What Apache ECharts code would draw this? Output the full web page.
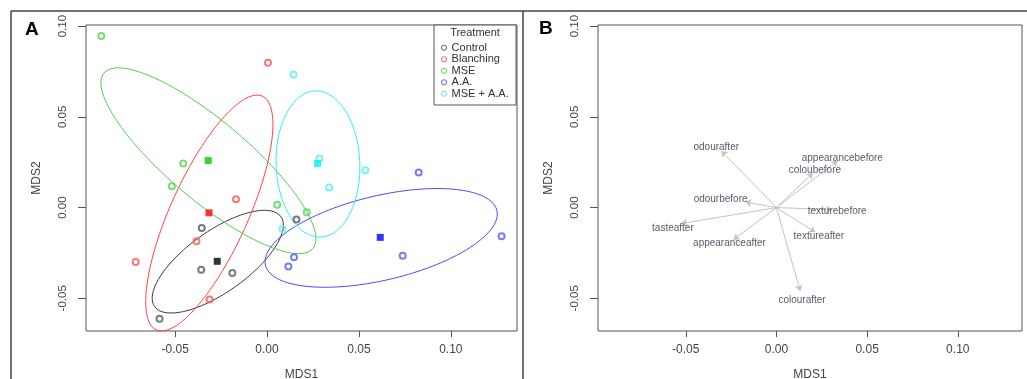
<!DOCTYPE html>
<html>
<head>
<meta charset="utf-8">
<script src="https://cdn.jsdelivr.net/npm/echarts@6/dist/echarts.min.js"></script>
<style>
  html, body { margin: 0; padding: 0; background: #fff; }
  #chart { width: 1027px; height: 379px; }
</style>
</head>
<body>
<div id="chart"></div>
<script>
// ---------- DATA ----------
const groups = ['Control', 'Blanching', 'MSE', 'A.A.', 'MSE + A.A.'];

const controlPts   = [[-0.0585, -0.0612], [-0.0358, -0.0342], [-0.0355, -0.0112], [-0.0189, -0.0360], [0.0160, -0.0066]];
const blanchingPts = [[0.0005, 0.0798], [-0.0169, 0.0046], [-0.0384, -0.0186], [-0.0715, -0.0300], [-0.0313, -0.0507]];
const msePts       = [[-0.0902, 0.0945], [-0.0456, 0.0243], [-0.0518, 0.0118], [0.0055, 0.0015], [0.0216, -0.0026]];
const aaPts        = [[0.0825, 0.0193], [0.1276, -0.0158], [0.0738, -0.0265], [0.0147, -0.0274], [0.0116, -0.0325]];
const mseAaPts     = [[0.0144, 0.0733], [0.0285, 0.0270], [0.0535, 0.0206], [0.0338, 0.0110], [0.0084, -0.0118]];

const centroidX = [-0.0271, -0.0316, -0.0320, 0.0616, 0.0275];
const centroidY = [-0.0296, -0.0029, 0.0259, -0.0164, 0.0243];

// ellipse: centre, half-width, half-height, x-offset of topmost point (data units)
const ellCX    = [-0.0268, -0.0314, -0.0319, 0.0621, 0.0277];
const ellCY    = [-0.0298, -0.0030, 0.0258, -0.0167, 0.0240];
const ellW     = [0.0357, 0.0346, 0.0585, 0.0632, 0.0228];
const ellH     = [0.0283, 0.0650, 0.0512, 0.0272, 0.0403];
const ellDxTop = [0.0254, 0.0260, -0.0491, 0.0305, -0.0010];

// panel B vectors
const vecNames = ['odourafter', 'appearancebefore', 'coloubefore', 'odourbefore', 'texturebefore', 'tasteafter', 'appearanceafter', 'textureafter', 'colourafter'];
const vecX   = [-0.0304, 0.0337, 0.0201, -0.0172, 0.0306, -0.0525, -0.0237, 0.0214, 0.0131];
const vecY   = [0.0312, 0.0257, 0.0191, 0.0031, -0.0011, -0.0088, -0.0177, -0.0135, -0.0460];
const labelX = [-0.0332, 0.0363, 0.0212, -0.0308, 0.0335, -0.0571, -0.0259, 0.0234, 0.0141];
const labelY = [0.0331, 0.0272, 0.0204, 0.0044, -0.0019, -0.0113, -0.0195, -0.0157, -0.0508];

const tickValues = [-0.05, 0.00, 0.05, 0.10];
const xRangeA = [-0.0985, 0.1360];
const xRangeB = [-0.0984, 0.1354];
const yRange  = [-0.0680, 0.1006];

// ---------- STYLE ----------
const pointColors    = ['#5a5a5a', '#f25a5a', '#58d258', '#5a5af5', '#5aeef2'];
const centroidColors = ['#000000', '#ff0000', '#00cc00', '#0000ff', '#00f0f0'];
const ellipseColors  = ['#3a3a3a', '#ff4040', '#50cc50', '#4a4aff', '#30eef2'];
const FONT = 'Liberation Sans, Arial, sans-serif';
const groupPts = [controlPts, blanchingPts, msePts, aaPts, mseAaPts];

function ellipsePoints(i) {
  const W = ellW[i], H = ellH[i];
  const k = ellDxTop[i] * H / W;
  const m = Math.sqrt(Math.max(H * H - k * k, 0));
  const pts = [];
  const n = 160;
  for (let j = 0; j <= n; j++) {
    const t = 2 * Math.PI * j / n;
    pts.push([ellCX[i] + W * Math.cos(t), ellCY[i] + k * Math.cos(t) + m * Math.sin(t)]);
  }
  return pts;
}

function xAxisCfg(idx, range) {
  return {
    type: 'value', gridIndex: idx, min: range[0], max: range[1], position: 'bottom',
    name: 'MDS1', nameLocation: 'middle', nameGap: 38,
    nameTextStyle: { fontFamily: FONT, fontSize: 12, color: '#444' },
    axisLine: { show: false, onZero: false },
    axisTick: { show: true, customValues: tickValues, length: 6, inside: false, lineStyle: { color: '#555', width: 1 } },
    axisLabel: { show: true, customValues: tickValues, margin: 13, fontFamily: FONT, fontSize: 12, color: '#444',
      formatter: v => v.toFixed(2) },
    splitLine: { show: false }
  };
}
function yAxisCfg(idx) {
  return {
    type: 'value', gridIndex: idx, min: yRange[0], max: yRange[1], position: 'left',
    name: 'MDS2', nameLocation: 'middle', nameGap: 43, nameRotate: 90,
    nameTextStyle: { fontFamily: FONT, fontSize: 12, color: '#444' },
    axisLine: { show: false, onZero: false },
    axisTick: { show: true, customValues: tickValues, length: 8, inside: false, lineStyle: { color: '#555', width: 1 } },
    axisLabel: { show: true, customValues: tickValues, rotate: 90, margin: 17, fontFamily: FONT, fontSize: 11.5, color: '#444',
      formatter: v => v.toFixed(2) },
    splitLine: { show: false }
  };
}

const series = [];
// ellipses
groups.forEach((g, i) => {
  series.push({
    name: g + ' ellipse', type: 'line', xAxisIndex: 0, yAxisIndex: 0,
    data: ellipsePoints(i), showSymbol: false, symbol: 'none', smooth: false, clip: true,
    lineStyle: { color: ellipseColors[i], width: 1 }, silent: true, z: 2
  });
});
// points
groups.forEach((g, i) => {
  series.push({
    name: g, type: 'scatter', xAxisIndex: 0, yAxisIndex: 0,
    data: groupPts[i], symbol: 'circle', symbolSize: 6,
    itemStyle: { color: 'rgba(255,255,255,0)', borderColor: pointColors[i], borderWidth: 2 }, z: 3
  });
});
// centroids
groups.forEach((g, i) => {
  series.push({
    name: g + ' centroid', type: 'scatter', xAxisIndex: 0, yAxisIndex: 0,
    data: [[centroidX[i], centroidY[i]]], symbol: 'rect', symbolSize: 7,
    itemStyle: { color: centroidColors[i] }, z: 4
  });
});
// panel B arrows
series.push({
  name: 'vectors', type: 'lines', coordinateSystem: 'cartesian2d', xAxisIndex: 1, yAxisIndex: 1,
  symbol: ['none', 'arrow'], symbolSize: 6,
  lineStyle: { color: '#c2c2c2', width: 1, opacity: 1 },
  data: vecNames.map((n, i) => ({ name: n, coords: [[0, 0], [vecX[i], vecY[i]]] })), z: 2
});
// panel B labels
series.push({
  name: 'vector labels', type: 'scatter', xAxisIndex: 1, yAxisIndex: 1,
  symbolSize: 1, itemStyle: { color: 'rgba(0,0,0,0)' },
  data: vecNames.map((n, i) => ({ name: n, value: [labelX[i], labelY[i]] })),
  label: { show: true, position: 'inside', formatter: p => p.name, fontFamily: FONT, fontSize: 10, color: '#2e2e46' },
  z: 5
});

const option = {
  animation: false,
  backgroundColor: '#fff',
  grid: [
    { left: 86, top: 25, width: 431, height: 306, show: true, borderColor: '#555', borderWidth: 1, backgroundColor: 'transparent',
      containLabel: false, outerBoundsMode: 'none' },
    { left: 598, top: 25, width: 424, height: 306, show: true, borderColor: '#555', borderWidth: 1, backgroundColor: 'transparent',
      containLabel: false, outerBoundsMode: 'none' }
  ],
  xAxis: [xAxisCfg(0, xRangeA), xAxisCfg(1, xRangeB)],
  yAxis: [yAxisCfg(0), yAxisCfg(1)],
  legend: {
    show: true, orient: 'vertical', left: 441, top: 42, padding: 0, itemGap: 0,
    itemWidth: 5, itemHeight: 5, z: 10,
    textStyle: { fontFamily: FONT, fontSize: 11, color: '#333', lineHeight: 11.5 },
    data: groups.map((g, i) => ({ name: g, icon: 'circle',
      itemStyle: { color: 'rgba(255,255,255,0)', borderColor: pointColors[i], borderWidth: 1.2 } })),
    selectedMode: false
  },
  graphic: [
    { type: 'line', shape: { x1: 11, y1: 11, x2: 1027, y2: 11 }, style: { stroke: '#444', lineWidth: 1.5 }, z: 1 },
    { type: 'line', shape: { x1: 11, y1: 11, x2: 11, y2: 379 }, style: { stroke: '#444', lineWidth: 1.5 }, z: 1 },
    { type: 'line', shape: { x1: 523, y1: 11, x2: 523, y2: 379 }, style: { stroke: '#444', lineWidth: 1.5 }, z: 1 },
    { type: 'text', left: 25, top: 20, style: { text: 'A', font: 'bold 19px ' + FONT, fill: '#000' }, z: 5 },
    { type: 'text', left: 539, top: 19, style: { text: 'B', font: 'bold 19px ' + FONT, fill: '#000' }, z: 5 },
    { type: 'rect', shape: { x: 434, y: 25, width: 82, height: 80 }, style: { fill: '#fff', stroke: '#555', lineWidth: 1 }, z: 6 },
    { type: 'text', x: 475, y: 33, style: { text: 'Treatment', font: '11px ' + FONT, fill: '#333', textAlign: 'center', textVerticalAlign: 'middle' }, z: 7 }
  ],
  series: series
};

const chart = echarts.init(document.getElementById('chart'), null, { renderer: 'canvas' });
chart.setOption(option);
</script>
</body>
</html>
